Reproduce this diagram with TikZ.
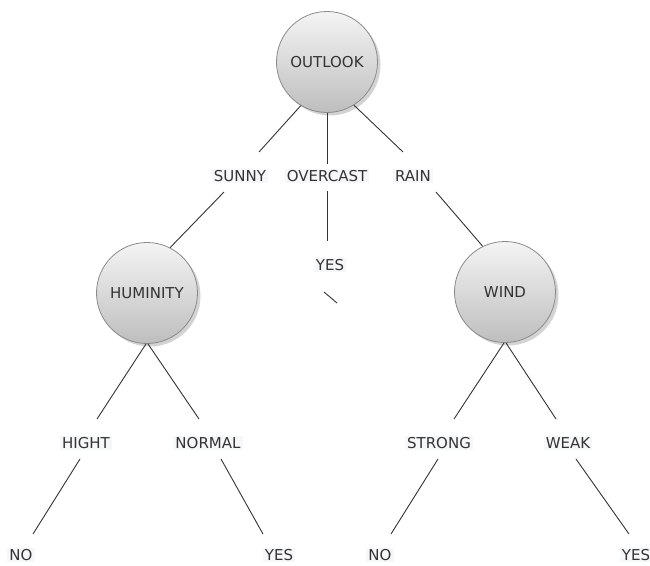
\documentclass[tikz,border=0pt]{standalone}
\usepackage{fontspec}
\setmainfont{DejaVu Sans}
\usetikzlibrary{shadows}
\definecolor{txt}{HTML}{333333}
\definecolor{lbl}{HTML}{F6F7F9}
\definecolor{ring}{HTML}{8A8A8A}
\definecolor{ctop}{HTML}{F4F4F4}
\definecolor{cbot}{HTML}{BEBEBE}
\definecolor{lnc}{HTML}{333333}
\tikzset{
  dnode/.style={circle, minimum size=101pt, inner sep=0pt, draw=ring, line width=0.8pt,
    top color=ctop, bottom color=cbot, text=txt,
    drop shadow={shadow xshift=3pt, shadow yshift=-3pt, opacity=0.35, fill=gray}},
  lab/.style={fill=lbl, inner xsep=2pt, inner ysep=1.5pt, text=txt},
  conn/.style={draw=lnc, line width=0.9pt}
}
\begin{document}
\begin{tikzpicture}[x=1pt,y=-1pt, font=\fontsize{15}{18}\selectfont]
\useasboundingbox (0,0) rectangle (650,565);
% decision nodes
\node[dnode] (outlook) at (327,62) {OUTLOOK};
\node[dnode] (humin) at (147,293) {HUMINITY};
\node[dnode] (wind) at (505,292) {WIND};
% labels
\node[lab] (sunny) at (240,176) {SUNNY};
\node[lab] (overcast) at (327,176) {OVERCAST};
\node[lab] (rain) at (413,176) {RAIN};
\node[lab] (yes1) at (330,265) {YES};
\node[lab] (hight) at (86,443) {HIGHT};
\node[lab] (normal) at (208,443) {NORMAL};
\node[lab] (strong) at (439,443) {STRONG};
\node[lab] (weak) at (568,443) {WEAK};
\node[lab] (no1) at (21,555) {NO};
\node[lab] (yes2) at (279,555) {YES};
\node[lab] (no2) at (380,555) {NO};
\node[lab] (yes3) at (636,555) {YES};
% connectors
\draw[conn] (outlook.239) -- ([shift={(19,-24)}]sunny.center);
\draw[conn] (outlook.south) -- ([shift={(0,-12)}]overcast.center);
\draw[conn] (outlook.302) -- ([shift={(-10,-24)}]rain.center);
\draw[conn] ([shift={(-16,16)}]sunny.center) -- (humin.63);
\draw[conn] ([shift={(0,15)}]overcast.center) -- ([shift={(-3,-24)}]yes1.center);
\draw[conn] ([shift={(23,16)}]rain.center) -- (wind.116);
\draw[conn] ([shift={(-6,27)}]yes1.center) -- ([shift={(7,38)}]yes1.center);
\draw[conn] ([xshift=-1pt]humin.south) -- ([shift={(11,-24)}]hight.center);
\draw[conn] ([xshift=1pt]humin.south) -- ([shift={(-9,-24)}]normal.center);
\draw[conn] ([xshift=-1pt]wind.south) -- ([shift={(15,-24)}]strong.center);
\draw[conn] ([xshift=1pt]wind.south) -- ([shift={(-12,-24)}]weak.center);
\draw[conn] ([shift={(-6,16)}]hight.center) -- ([shift={(12,-21)}]no1.center);
\draw[conn] ([shift={(13,16)}]normal.center) -- ([shift={(-16,-21)}]yes2.center);
\draw[conn] ([shift={(-1,16)}]strong.center) -- ([shift={(11,-21)}]no2.center);
\draw[conn] ([shift={(8,16)}]weak.center) -- ([shift={(-7,-21)}]yes3.center);
\end{tikzpicture}
\end{document}
